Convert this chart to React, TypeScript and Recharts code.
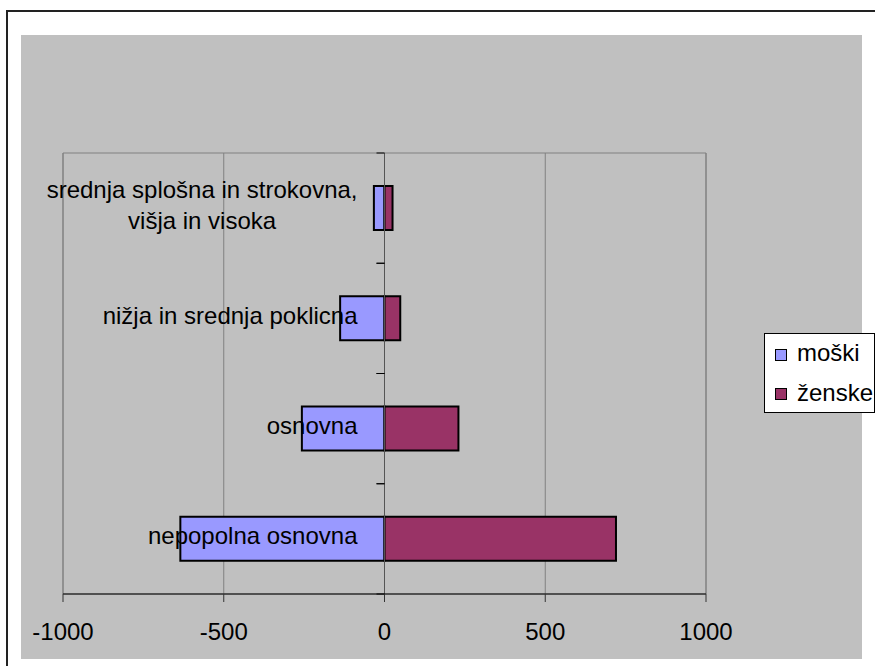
import React from 'react';
import {
  BarChart, Bar, XAxis, YAxis, CartesianGrid, ReferenceLine, ReferenceArea, Legend
} from 'recharts';

// categories top to bottom, as they appear in the picture
const categories = [
  'srednja splošna in strokovna,\nvišja in visoka',
  'nižja in srednja poklicna',
  'osnovna',
  'nepopolna osnovna',
];
const moski = [-33, -138, -257, -635];
const zenske = [25, 49, 230, 720];
const xTicks = [-1000, -500, 0, 500, 1000];

const seriesInfo = [
  { key: 'moski', label: 'moški', color: '#9999FF' },
  { key: 'zenske', label: 'ženske', color: '#993366' },
];

const W = 875;
const H = 666;
const X_MIN = -1000;
const X_MAX = 1000;
const Y_AXIS_W = 1;
const MARGIN = { top: 153, right: 169, bottom: 22, left: 62 };
const X_AXIS_H = 50;
const PLOT_LEFT = MARGIN.left + Y_AXIS_W;
const PLOT_W = W - PLOT_LEFT - MARGIN.right;
const PLOT_H = H - MARGIN.top - MARGIN.bottom - X_AXIS_H;
const FONT = '"Liberation Sans", Arial, sans-serif';

const data = categories.map((name, i) => ({ name, moski: moski[i], zenske: zenske[i] }));

function CategoryTick(props: any) {
  const { y, payload } = props;
  const zeroX = PLOT_LEFT + ((0 - X_MIN) / (X_MAX - X_MIN)) * PLOT_W;
  const band = PLOT_H / categories.length;
  const right = zeroX - 27;
  return (
    <g>
      <line x1={zeroX - 8} x2={zeroX} y1={y - band / 2} y2={y - band / 2} stroke="#000" />
      <line x1={zeroX - 8} x2={zeroX} y1={y + band / 2} y2={y + band / 2} stroke="#000" />
      <foreignObject x={right - 420} y={y - 45} width={420} height={90}>
        <div style={{
          width: '100%', height: '100%', display: 'flex', justifyContent: 'flex-end',
          alignItems: 'center', transform: 'translateY(-3px)'
        }}>
          <div style={{
            textAlign: 'center', whiteSpace: 'pre-line', fontFamily: FONT,
            fontSize: 24, lineHeight: '31px', color: '#000'
          }}>
            {payload.value}
          </div>
        </div>
      </foreignObject>
    </g>
  );
}

function LegendBox() {
  return (
    <div style={{
      position: 'relative', width: 109, height: 78, background: '#fff',
      border: '1px solid #000', fontFamily: FONT, fontSize: 24, color: '#000'
    }}>
      {seriesInfo.map((s, i) => (
        <React.Fragment key={s.key}>
          <div style={{
            position: 'absolute', left: 10, top: 15 + i * 39, width: 12, height: 12,
            boxSizing: 'border-box', border: '1px solid #000', background: s.color
          }} />
          <div style={{ position: 'absolute', left: 32, top: 5 + i * 40, lineHeight: '28px', whiteSpace: 'nowrap' }}>
            {s.label}
          </div>
        </React.Fragment>
      ))}
    </div>
  );
}

export default function App() {
  return (
    <div style={{ position: 'absolute', left: 0, top: 0, width: W, height: H, background: '#fff', overflow: 'hidden' }}>
      <div style={{ position: 'absolute', left: 6, top: 10, width: 900, height: 700, border: '2px solid #222' }} />
      <div style={{ position: 'absolute', left: 21, top: 35, width: 841, height: 624, background: '#c0c0c0' }} />
      <div style={{ position: 'absolute', left: 0, top: 0 }}>
        <BarChart
          width={W}
          height={H}
          data={data}
          layout="vertical"
          stackOffset="sign"
          barCategoryGap="30%"
          margin={MARGIN}
        >
          <CartesianGrid horizontal={false} stroke="#808080" />
          <ReferenceArea x1={X_MIN} x2={X_MAX} fill="none" stroke="#808080" />
          {seriesInfo.map((s) => (
            <Bar
              key={s.key}
              dataKey={s.key}
              name={s.label}
              stackId="a"
              fill={s.color}
              stroke="#000"
              strokeWidth={2}
              isAnimationActive={false}
            />
          ))}
          <ReferenceLine x={0} stroke="#555" />
          <XAxis
            type="number"
            domain={[X_MIN, X_MAX]}
            ticks={xTicks}
            height={X_AXIS_H}
            tickSize={8}
            tickMargin={21}
            axisLine={{ stroke: '#000' }}
            tickLine={{ stroke: '#333' }}
            tick={{ fontSize: 24, fill: '#000', fontFamily: FONT }}
          />
          <YAxis
            type="category"
            dataKey="name"
            width={Y_AXIS_W}
            interval={0}
            axisLine={false}
            tickLine={false}
            tick={CategoryTick}
          />
          <Legend
            layout="vertical"
            align="center"
            verticalAlign="middle"
            content={<LegendBox />}
            wrapperStyle={{ left: 764, top: 333, width: 111, height: 80 }}
          />
        </BarChart>
      </div>
    </div>
  );
}
